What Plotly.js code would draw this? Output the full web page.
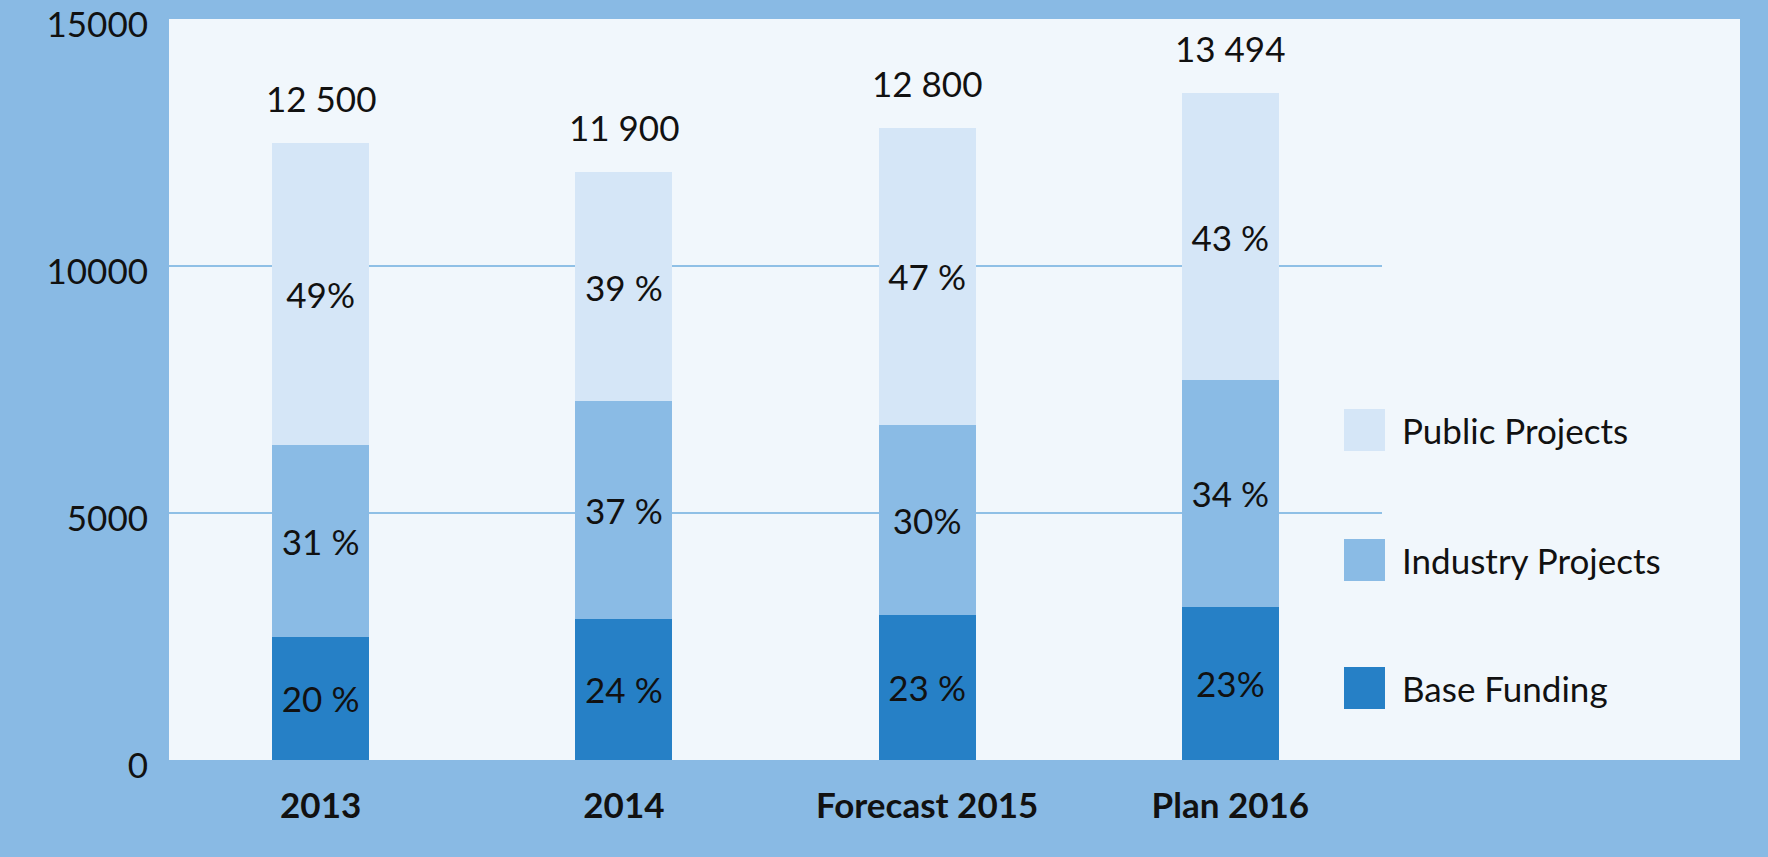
<!DOCTYPE html>
<html>
<head>
<meta charset="utf-8">
<script src="https://cdn.plot.ly/plotly-3.0.1.min.js"></script>
<style>
  html, body { margin: 0; padding: 0; background: #89bae4; }
  #chart { width: 1768px; height: 857px; }
</style>
</head>
<body>
<div id="chart"></div>
<script>
  // funding by year, in thousand euro
  var years = ['2013', '2014', 'Forecast 2015', 'Plan 2016'];
  var baseFunding = [2500, 2860, 2940, 3100];
  var industryProjects = [3880, 4400, 3840, 4590];
  var publicProjects = [6120, 4640, 6020, 5804];
  var totals = [12500, 11900, 12800, 13494];
  var totalLabels = ['12 500', '11 900', '12 800', '13 494'];

  var basePct = ['20 %', '24 %', '23 %', '23%'];
  var industryPct = ['31 %', '37 %', '30%', '34 %'];
  var publicPct = ['49%', '39 %', '47 %', '43 %'];

  var colBase = '#2680c6';
  var colIndustry = '#8abbe5';
  var colPublic = '#d5e6f7';
  var font = 'Lato, "Open Sans", sans-serif';
  var ink = '#111111';

  // plot box in pixels
  var W = 1768, H = 857;
  var boxL = 169, boxR = 1382, boxT = 19, boxB = 760;
  function px(x) { return (x - boxL) / (boxR - boxL); }
  function py(y) { return (boxB - y) / (boxB - boxT); }

  function barTrace(name, vals, labels, color) {
    return {
      type: 'bar',
      name: name,
      x: years,
      y: vals,
      text: labels,
      textposition: 'inside',
      insidetextanchor: 'middle',
      textangle: 0,
      constraintext: 'none',
      textfont: {family: font, size: 35, color: ink},
      marker: {color: color, line: {width: 0}},
      hoverinfo: 'skip'
    };
  }

  var data = [
    barTrace('Base Funding', baseFunding, basePct, colBase),
    barTrace('Industry Projects', industryProjects, industryPct, colIndustry),
    barTrace('Public Projects', publicProjects, publicPct, colPublic)
  ];

  // totals above the stacks (x given as category index: '2013' would be read as a number)
  var annotations = [];
  for (var i = 0; i < years.length; i++) {
    annotations.push({
      x: i, y: totals[i], xref: 'x', yref: 'y',
      text: totalLabels[i], showarrow: false,
      yanchor: 'bottom', yshift: 22,
      font: {family: font, size: 35, color: ink}
    });
  }

  // legend drawn by hand: big squares like the original
  var legendItems = [
    {name: 'Public Projects', color: colPublic, y: 430},
    {name: 'Industry Projects', color: colIndustry, y: 560},
    {name: 'Base Funding', color: colBase, y: 688}
  ];
  var shapes = [{
    type: 'rect', xref: 'paper', yref: 'paper',
    x0: 1, x1: px(1740), y0: 0, y1: 1,
    fillcolor: '#f1f7fc', line: {width: 0}, layer: 'below'
  }];
  legendItems.forEach(function(it) {
    shapes.push({
      type: 'rect', xref: 'paper', yref: 'paper',
      x0: px(1344), x1: px(1385), y0: py(it.y + 21), y1: py(it.y - 21),
      fillcolor: it.color, line: {width: 0}
    });
    annotations.push({
      xref: 'paper', yref: 'paper', x: px(1400), y: py(it.y),
      xanchor: 'left', yanchor: 'middle', showarrow: false,
      text: it.name, font: {family: font, size: 35, color: ink}
    });
  });

  var layout = {
    width: W, height: H,
    margin: {l: boxL, r: W - boxR, t: boxT, b: H - boxB},
    paper_bgcolor: '#89bae4',
    plot_bgcolor: '#f1f7fc',
    barmode: 'stack',
    bargap: 0.68,
    showlegend: false,
    font: {family: font, size: 35, color: ink},
    xaxis: {
      type: 'category',
      range: [-0.5, 3.5], autorange: false,
      showgrid: false, zeroline: false, showline: false,
      ticks: '', ticklabelstandoff: 22,
      tickfont: {family: font, size: 35, color: ink, weight: 'bold'}
    },
    yaxis: {
      range: [0, 15000], autorange: false,
      tickvals: [0, 5000, 10000, 15000],
      ticktext: ['0', '5000', '10000', '15000'],
      showgrid: true, gridcolor: '#8fc0e6', gridwidth: 1.2,
      zeroline: false, showline: false,
      ticks: '', ticklabelstandoff: 20, ticklabelshift: 6,
      tickfont: {family: font, size: 35, color: ink}
    },
    shapes: shapes,
    annotations: annotations
  };

  Plotly.newPlot('chart', data, layout, {staticPlot: true, displayModeBar: false});
</script>
</body>
</html>
